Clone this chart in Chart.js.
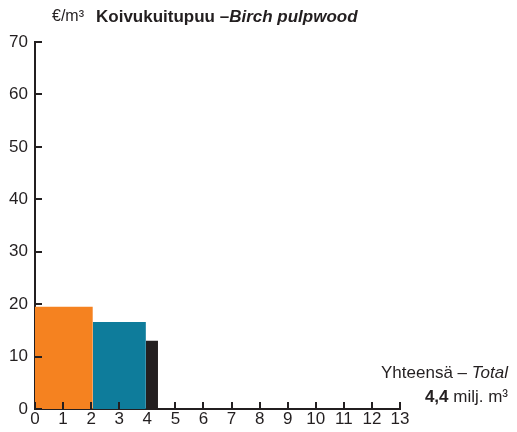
<!DOCTYPE html>
<html>
<head>
<meta charset="utf-8">
<script src="https://cdn.jsdelivr.net/npm/chart.js@4.4.0/dist/chart.umd.min.js"></script>
<style>
  html, body { margin: 0; padding: 0; background: #fff; }
  #wrap { position: relative; width: 517px; height: 432px; }
  #chart { position: absolute; left: 0; top: 0; }
  .lbl { position: absolute; color: #231f20; font-family: 'Liberation Sans', Arial, sans-serif; white-space: nowrap; }
</style>
</head>
<body>
<div id="wrap">
  <canvas id="chart" width="517" height="432"></canvas>
  <div class="lbl" style="left:52px; top:7px; font-size:16px;">€/m³</div>
  <div class="lbl" style="left:96px; top:7px; font-size:17px; font-weight:bold;">Koivukuitupuu –<i>Birch pulpwood</i></div>
  <div class="lbl" style="right:9px; top:363px; font-size:17px; text-align:right;">Yhteensä – <i>Total</i></div>
  <div class="lbl" style="right:9px; top:387px; font-size:17px; text-align:right;"><b>4,4</b> milj. m³</div>
</div>
<script>
// Hakkuumäärät (milj. m³) ja kantohinnat (€/m³)
const volumes = [2.06, 1.89, 0.43];
const prices = [19.5, 16.6, 13.0];
const barColors = ['#f58220', '#0e7c9b', '#231f20'];
const xTicks = [0, 1, 2, 3, 4, 5, 6, 7, 8, 9, 10, 11, 12, 13];
const yTicks = [0, 10, 20, 30, 40, 50, 60, 70];

const ink = '#231f20';
const tickFont = { family: "'Liberation Sans', Arial, sans-serif", size: 17 };

// jokainen palkki omana täytettynä viivanaan x0..x1
let start = 0;
const datasets = volumes.map((w, i) => {
    const ds = {
        data: [{ x: start, y: prices[i] }, { x: start + w, y: prices[i] }],
        backgroundColor: barColors[i],
        borderColor: barColors[i],
        borderWidth: 0,
        pointRadius: 0,
        fill: 'origin',
        tension: 0
    };
    start += w;
    return ds;
});

// sisäänpäin osoittavat asteikkoviivat
const innerTicks = {
    id: 'innerTicks',
    afterDatasetsDraw(chart) {
        const { ctx, scales: { x, y } } = chart;
        ctx.save();
        ctx.strokeStyle = ink;
        ctx.lineWidth = 2;
        ctx.beginPath();
        xTicks.forEach(v => {
            const px = Math.round(x.getPixelForValue(v));
            ctx.moveTo(px, y.bottom);
            ctx.lineTo(px, y.bottom - 7);
        });
        yTicks.forEach(v => {
            const py = Math.round(y.getPixelForValue(v));
            ctx.moveTo(x.left, py);
            ctx.lineTo(x.left + 7, py);
        });
        ctx.stroke();
        ctx.restore();
    }
};

new Chart(document.getElementById('chart'), {
    type: 'line',
    data: { datasets },
    options: {
        responsive: false,
        animation: false,
        layout: { padding: { left: 0, right: 117, top: 42, bottom: 0 } },
        plugins: { legend: { display: false }, tooltip: { enabled: false } },
        scales: {
            x: {
                type: 'linear',
                min: 0,
                max: 13,
                afterBuildTicks: s => { s.ticks = xTicks.map(v => ({ value: v })); },
                afterFit: s => { s.height = 23; },
                grid: { display: false, drawTicks: false },
                border: { color: ink, width: 2 },
                ticks: { color: ink, font: tickFont, padding: 0, maxRotation: 0 }
            },
            y: {
                min: 0,
                max: 70,
                afterBuildTicks: s => { s.ticks = yTicks.map(v => ({ value: v })); },
                afterFit: s => { s.width = 35; },
                grid: { display: false, drawTicks: false },
                border: { color: ink, width: 2 },
                ticks: { color: ink, font: tickFont, padding: 7 }
            }
        }
    },
    plugins: [innerTicks]
});
</script>
</body>
</html>
